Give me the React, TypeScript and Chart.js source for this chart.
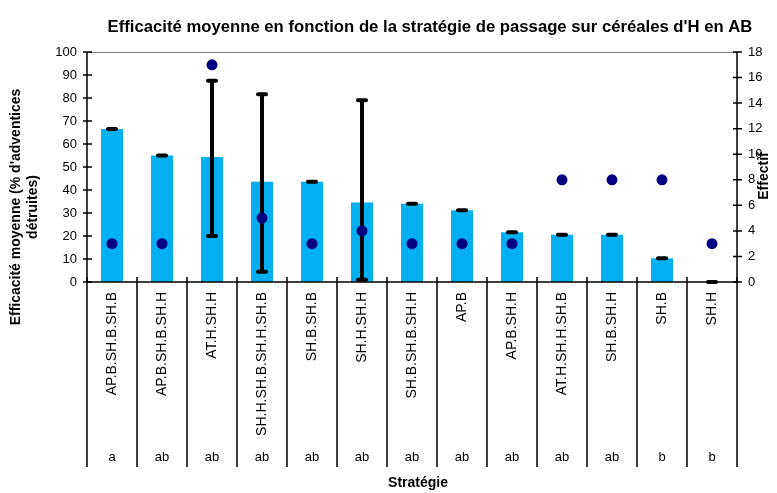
import React, { useEffect, useRef } from "react";
import { Chart, registerables } from "chart.js";

Chart.register(...registerables);

const categories = [
  "AP.B.SH.B.SH.B",
  "AP.B.SH.B.SH.H",
  "AT.H.SH.H",
  "SH.H.SH.B.SH.H.SH.B",
  "SH.B.SH.B",
  "SH.H.SH.H",
  "SH.B.SH.B.SH.H",
  "AP.B",
  "AP.B.SH.H",
  "AT.H.SH.H.SH.B",
  "SH.B.SH.H",
  "SH.B",
  "SH.H",
];
const efficacite = [66.5, 55, 54.4, 43.6, 43.6, 34.6, 34, 31.2, 21.6, 20.5, 20.5, 10.3, 0];
const errorHigh = [66.5, 55, 87.5, 81.6, 43.6, 79, 34, 31.2, 21.6, 20.5, 20.5, 10.3, 0];
const errorLow = [66.5, 55, 20, 4.5, 43.6, 1, 34, 31.2, 21.6, 20.5, 20.5, 10.3, 0];
const effectif = [3, 3, 17, 5, 3, 4, 3, 3, 3, 8, 8, 8, 3];
const groupes = ["a", "ab", "ab", "ab", "ab", "ab", "ab", "ab", "ab", "ab", "ab", "b", "b"];

const titleText = "Efficacité moyenne en fonction de la stratégie de passage sur céréales d'H en AB";
const leftTitle = ["Efficacité moyenne (% d'adventices", "détruites)"];
const rightTitle = "Effectif";
const xTitle = "Stratégie";

const FONT = "'Liberation Sans', Arial, sans-serif";

const decorPlugin = {
  id: "decor",
  afterDatasetDraw(chart: any, args: any) {
    if (args.index !== 0) return;
    const { ctx } = chart;
    const xs = chart.scales.x;
    const ys = chart.scales.y;
    ctx.save();
    ctx.strokeStyle = "#000";
    ctx.lineWidth = 4;
    ctx.lineCap = "round";
    for (let i = 0; i < categories.length; i++) {
      const px = xs.getPixelForValue(i);
      const yh = ys.getPixelForValue(errorHigh[i]);
      const yl = ys.getPixelForValue(errorLow[i]);
      ctx.beginPath();
      if (yh !== yl) {
        ctx.moveTo(px, yh);
        ctx.lineTo(px, yl);
        ctx.moveTo(px - 4, yl);
        ctx.lineTo(px + 4, yl);
      }
      ctx.moveTo(px - 4, yh);
      ctx.lineTo(px + 4, yh);
      ctx.stroke();
    }
    ctx.restore();
  },
  afterDraw(chart: any) {
    const { ctx, chartArea } = chart;
    const { left, right, top, bottom } = chartArea;
    const xs = chart.scales.x;
    const ys = chart.scales.y;
    const ys1 = chart.scales.y1;
    ctx.save();
    // top border
    ctx.strokeStyle = "#808080";
    ctx.lineWidth = 1;
    ctx.beginPath();
    ctx.moveTo(left, top + 0.5);
    ctx.lineTo(right, top + 0.5);
    ctx.stroke();
    // axes
    ctx.strokeStyle = "#000";
    ctx.lineWidth = 1.5;
    ctx.beginPath();
    ctx.moveTo(left, top);
    ctx.lineTo(left, bottom);
    ctx.moveTo(right, top);
    ctx.lineTo(right, bottom);
    ctx.moveTo(left, bottom);
    ctx.lineTo(right, bottom);
    ctx.stroke();
    // y ticks crossing
    ctx.lineWidth = 1.5;
    ctx.beginPath();
    ys.ticks.forEach((t: any) => {
      const py = ys.getPixelForValue(t.value);
      ctx.moveTo(left - 4, py);
      ctx.lineTo(left + 5, py);
    });
    ys1.ticks.forEach((t: any) => {
      const py = ys1.getPixelForValue(t.value);
      ctx.moveTo(right - 4, py);
      ctx.lineTo(right + 5, py);
    });
    // category separators
    const n = categories.length;
    const step = (xs.getPixelForValue(n - 1) - xs.getPixelForValue(0)) / (n - 1);
    for (let i = 0; i <= n; i++) {
      const px = xs.getPixelForValue(0) - step / 2 + i * step;
      ctx.moveTo(px, bottom - 5);
      ctx.lineTo(px, bottom + 185);
    }
    ctx.stroke();
    // group letters
    ctx.fillStyle = "#000";
    ctx.font = `13px ${FONT}`;
    ctx.textAlign = "center";
    ctx.textBaseline = "middle";
    for (let i = 0; i < n; i++) {
      ctx.fillText(groupes[i], xs.getPixelForValue(i), bottom + 175);
    }
    // titles
    ctx.font = `bold 16.7px ${FONT}`;
    ctx.fillText(titleText, 430, 27);
    ctx.font = `bold 14px ${FONT}`;
    ctx.fillText(xTitle, 418, 483);
    ctx.save();
    ctx.translate(16, 207);
    ctx.rotate(-Math.PI / 2);
    ctx.fillText(leftTitle[0], 0, 0);
    ctx.fillText(leftTitle[1], 0, 17);
    ctx.restore();
    ctx.save();
    ctx.translate(764, 176);
    ctx.rotate(-Math.PI / 2);
    ctx.fillText(rightTitle, 0, 0);
    ctx.restore();
    ctx.restore();
  },
};

export default function App() {
  const ref = useRef<HTMLCanvasElement | null>(null);
  useEffect(() => {
    document.body.style.margin = "0";
    const canvas = ref.current;
    if (!canvas) return;
    const chart = new Chart(canvas, {
      type: "bar",
      data: {
        labels: categories,
        datasets: [
          {
            type: "bar",
            data: efficacite,
            backgroundColor: "#00B0F0",
            barPercentage: 0.44,
            categoryPercentage: 1,
            yAxisID: "y",
            order: 1,
          },
          {
            type: "line",
            data: effectif,
            showLine: false,
            pointRadius: 5.5,
            pointBackgroundColor: "#000080",
            pointBorderColor: "#000080",
            pointBorderWidth: 0,
            yAxisID: "y1",
            order: 0,
          } as any,
        ],
      },
      options: {
        responsive: false,
        animation: false,
        layout: { padding: { top: 52 } },
        plugins: {
          legend: { display: false },
          tooltip: { enabled: false },
          title: { display: false },
        },
        scales: {
          x: {
            grid: { display: false, drawTicks: false },
            border: { display: false },
            ticks: {
              minRotation: 90,
              maxRotation: 90,
              autoSkip: false,
              padding: 10,
              color: "#000",
              font: { family: FONT, size: 14 },
            },
            afterFit(scale: any) {
              scale.height = 211;
            },
          },
          y: {
            position: "left",
            min: 0,
            max: 100,
            grid: { display: false, drawTicks: false },
            border: { display: false },
            ticks: {
              stepSize: 10,
              padding: 10,
              color: "#000",
              font: { family: FONT, size: 13 },
            },
            afterFit(scale: any) {
              scale.width = 87;
            },
          },
          y1: {
            position: "right",
            min: 0,
            max: 18,
            grid: { display: false, drawTicks: false },
            border: { display: false },
            ticks: {
              stepSize: 2,
              padding: 11,
              color: "#000",
              font: { family: FONT, size: 13 },
            },
            afterFit(scale: any) {
              scale.width = 40;
            },
          },
        },
      },
      plugins: [decorPlugin],
    });
    return () => chart.destroy();
  }, []);
  return <canvas ref={ref} width={777} height={493} style={{ display: "block" }} />;
}
